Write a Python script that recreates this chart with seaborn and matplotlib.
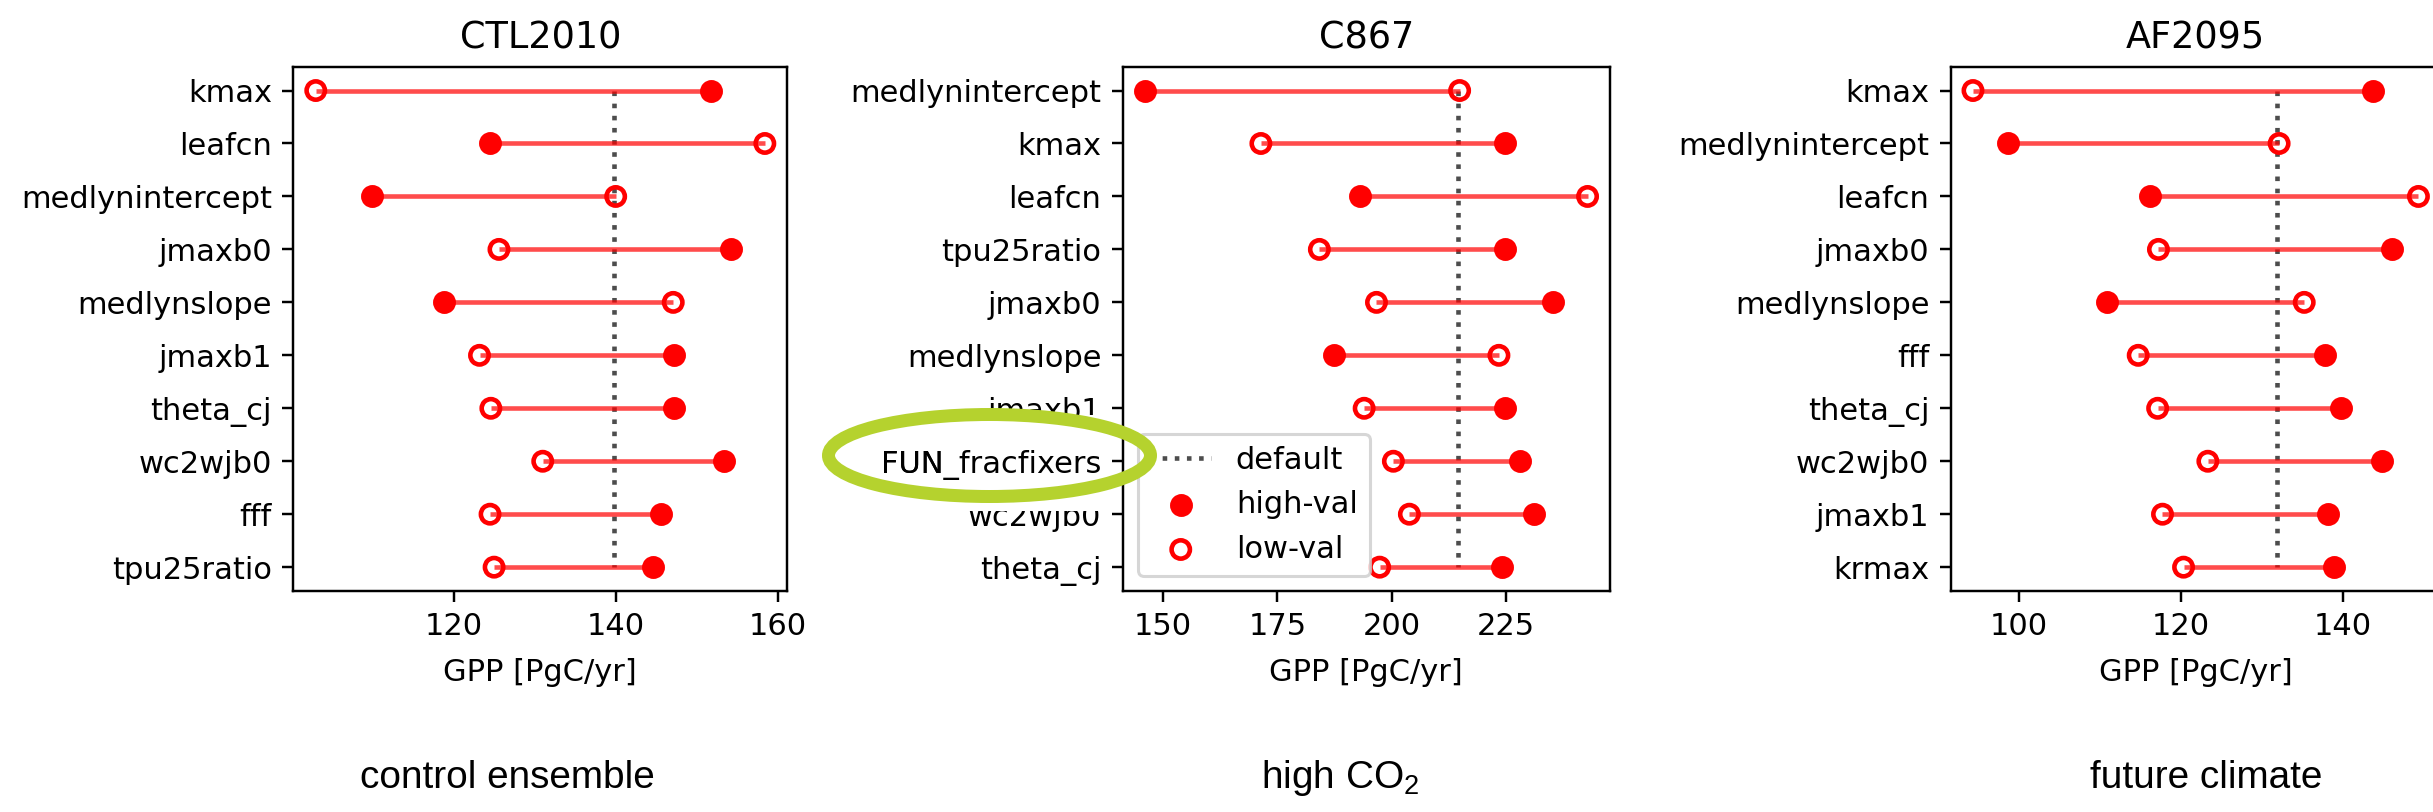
import matplotlib
matplotlib.use("Agg")
import matplotlib.pyplot as plt
import matplotlib.transforms as mtransforms
from matplotlib.patches import Ellipse, Rectangle
import pandas as pd
import seaborn as sns

plt.rcParams['mathtext.fontset'] = 'custom'
plt.rcParams['mathtext.rm'] = 'Liberation Sans'

titles = ['CTL2010', 'C867', 'AF2095']
captions = ['control ensemble', 'high CO$_\\mathregular{2}$', 'future climate']

# CTL2010
names1 = ['kmax', 'leafcn', 'medlynintercept', 'jmaxb0', 'medlynslope',
          'jmaxb1', 'theta_cj', 'wc2wjb0', 'fff', 'tpu25ratio']
high1 = [151.7, 124.5, 110.0, 154.2, 118.8, 147.2, 147.2, 153.4, 145.6, 144.6]
low1 = [103.0, 158.4, 140.0, 125.6, 147.1, 123.2, 124.6, 131.0, 124.5, 125.0]
default1 = 139.8

# C867
names2 = ['medlynintercept', 'kmax', 'leafcn', 'tpu25ratio', 'jmaxb0',
          'medlynslope', 'jmaxb1', 'FUN_fracfixers', 'wc2wjb0', 'theta_cj']
high2 = [146.0, 224.8, 193.1, 224.8, 235.4, 187.5, 224.8, 228.2, 231.2, 224.2]
low2 = [214.9, 171.4, 242.9, 184.2, 196.7, 223.5, 194.0, 200.4, 203.9, 197.4]
default2 = 214.6

# AF2095
names3 = ['kmax', 'medlynintercept', 'leafcn', 'jmaxb0', 'medlynslope',
          'fff', 'theta_cj', 'wc2wjb0', 'jmaxb1', 'krmax']
high3 = [143.7, 98.6, 116.1, 146.0, 110.9, 137.8, 139.7, 144.8, 138.1, 138.9]
low3 = [94.3, 132.1, 149.3, 117.2, 135.2, 114.7, 117.1, 123.3, 117.7, 120.3]
default3 = 131.8

panels = [(names1, high1, low1, default1),
          (names2, high2, low2, default2),
          (names3, high3, low3, default3)]

W, H, DPI = 2433, 812, 220
fig = plt.figure(figsize=(W / DPI, H / DPI), dpi=DPI)

boxes = [[293.3, 494], [1122.7, 487], [1950.7, 490]]
top, bottom = 66.7, 591.0

axes = []
for (names, high, low, default), title, (left, width) in zip(panels, titles, boxes):
    ax = fig.add_axes([left / W, 1 - bottom / H, width / W, (bottom - top) / H])
    df = pd.DataFrame({'param': names, 'high': high, 'low': low})

    ax.hlines(df['param'], df['low'], df['high'], colors='red', alpha=0.7,
              lw=1.5, zorder=2)
    ax.vlines(default, 0, len(names) - 1, colors='0.3', linestyles=':',
              lw=1.5, zorder=1, label='default')
    # seaborn puts the first category on top for a categorical y
    sns.scatterplot(data=df, x='high', y='param', color='red', edgecolor='red',
                    linewidth=1.5, s=36, label='high-val', legend=False,
                    ax=ax, zorder=3)
    sns.scatterplot(data=df, x='low', y='param', facecolor='none',
                    edgecolor='red', linewidth=1.5, s=36, label='low-val',
                    legend=False, ax=ax, zorder=3)

    ax.set_title(title)
    ax.set_xlabel('GPP [PgC/yr]', labelpad=5.5)
    ax.set_ylabel('')
    axes.append(ax)

# legend order: default, high-val, low-val
ax2 = axes[1]
h, l = ax2.get_legend_handles_labels()
order = [l.index('default'), l.index('high-val'), l.index('low-val')]
ax2.legend([h[i] for i in order], [l[i] for i in order], loc='lower left')

# pasted-over label in the middle panel
blend = ax2.get_yaxis_transform()
ax2.add_artist(Rectangle((-0.37, 6.13), 0.34, 1.8, transform=blend,
                         facecolor='white', edgecolor='none',
                         clip_on=False, zorder=1.6))
off = mtransforms.ScaledTranslation(-7 / 72, 0, fig.dpi_scale_trans)
ax2.text(0, names2.index('FUN_fracfixers'), 'FUN_fracfixers',
         transform=blend + off, ha='right', va='center_baseline',
         fontsize=10, clip_on=False, zorder=3)

fig.add_artist(Ellipse((989.5 / W, 1 - 455.5 / H), 322 / W, 82 / H,
                       transform=fig.transFigure, facecolor='none',
                       edgecolor='#b5d22e', lw=4.25))

for x, cap in zip([507, 1340, 2206], captions):
    fig.text(x / W, 24 / H, cap, ha='center', va='baseline',
             fontsize=12.7, family='Liberation Sans')

fig.savefig('out.png', dpi=DPI)
